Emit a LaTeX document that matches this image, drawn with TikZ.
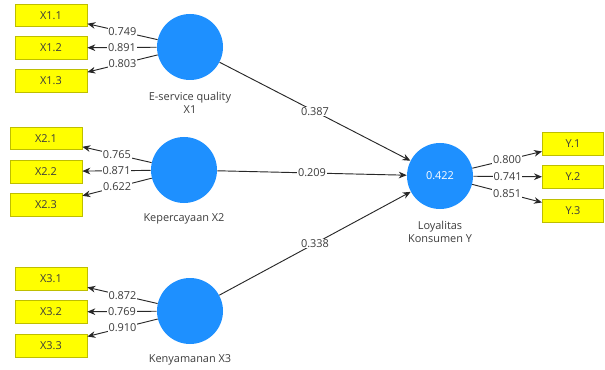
\documentclass[tikz,border=0pt]{standalone}
\usepackage{fontspec}
\setmainfont{Open Sans}
\usetikzlibrary{arrows.meta}
\definecolor{lvblue}{RGB}{30,144,255}
\definecolor{indyel}{RGB}{255,255,0}
\definecolor{indbord}{RGB}{190,190,0}
\definecolor{txt}{RGB}{60,60,60}
\definecolor{edge}{RGB}{40,40,40}
\tikzset{
  latent/.style={circle,fill=lvblue,draw=none,minimum size=49.5pt,inner sep=0pt,text=white,font=\fontsize{8.2}{9}\selectfont},
  indic/.style={rectangle,fill=indyel,draw=indbord,line width=0.5pt,minimum width=#1,minimum height=17pt,inner sep=0pt,text=txt,font=\fontsize{8.2}{9}\selectfont},
  indic/.default=54pt,
  lvlabel/.style={align=center,text=txt,font=\fontsize{8.2}{10}\selectfont,anchor=north,inner sep=0pt},
  conn/.style={draw=edge,line width=0.7pt,-{Stealth[length=6pt,width=5pt]}},
  wt/.style={fill=white,inner sep=0.6pt,text=txt,font=\fontsize{8.2}{9}\selectfont,pos=0.5}
}
\begin{document}
\begin{tikzpicture}[x=0.75pt,y=-0.75pt]
\useasboundingbox (0,0) rectangle (605,370);
% latent variables
\node[latent] (X1) at (190,47) {};
\node[latent] (X2) at (184,170) {};
\node[latent] (X3) at (190,311) {};
\node[latent] (Y) at (440,176) {0.422};
\node[lvlabel] (lX1) at (190,92) {E-service quality\\X1};
\node[lvlabel] (lX2) at (184,213) {Kepercayaan X2};
\node[lvlabel] (lX3) at (190,354) {Kenyamanan X3};
\node[lvlabel] (lY) at (440,221) {Loyalitas\\Konsumen Y};
% indicators
\node[indic] (x11) at (51,15.5) {X1.1};
\node[indic] (x12) at (51,48) {X1.2};
\node[indic] (x13) at (51,81) {X1.3};
\node[indic] (x21) at (46,138.5) {X2.1};
\node[indic] (x22) at (46,171.5) {X2.2};
\node[indic] (x23) at (46,205) {X2.3};
\node[indic] (x31) at (51,279) {X3.1};
\node[indic] (x32) at (51,312) {X3.2};
\node[indic] (x33) at (51,345.5) {X3.3};
\node[indic=46pt] (y1) at (573,144) {Y.1};
\node[indic=46pt] (y2) at (573,177) {Y.2};
\node[indic=46pt] (y3) at (573,210.5) {Y.3};
% outer loadings
\draw[conn] (X1) -- node[wt] {0.749} (x11);
\draw[conn] (X1) -- node[wt] {0.891} (x12);
\draw[conn] (X1) -- node[wt] {0.803} (x13);
\draw[conn] (X2) -- node[wt] {0.765} (x21);
\draw[conn] (X2) -- node[wt] {0.871} (x22);
\draw[conn] (X2) -- node[wt] {0.622} (x23);
\draw[conn] (X3) -- node[wt] {0.872} (x31);
\draw[conn] (X3) -- node[wt] {0.769} (x32);
\draw[conn] (X3) -- node[wt] {0.910} (x33);
\draw[conn] (Y) -- node[wt] {0.800} (y1);
\draw[conn] (Y) -- node[wt] {0.741} (y2);
\draw[conn] (Y) -- node[wt] {0.851} (y3);
% path coefficients
\draw[conn] (X1) -- node[wt] {0.387} (Y);
\draw[conn] (X2) -- node[wt] {0.209} (Y);
\draw[conn] (X3) -- node[wt] {0.338} (Y);
\end{tikzpicture}
\end{document}
